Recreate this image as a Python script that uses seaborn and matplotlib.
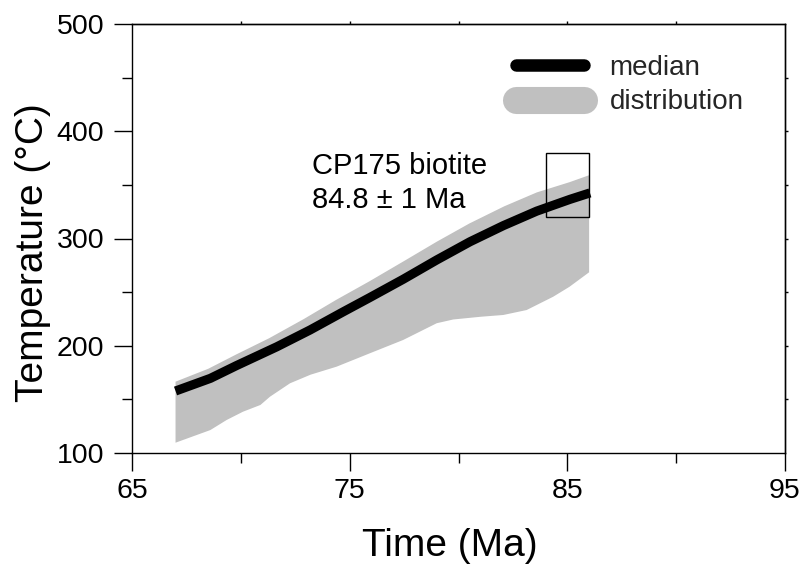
import numpy as np
import pandas as pd
import matplotlib
matplotlib.use("Agg")
import matplotlib.pyplot as plt
from matplotlib.lines import Line2D
from matplotlib.patches import Rectangle
import seaborn as sns

# ---- data ----
median_time = [67.0, 68.6, 69.8, 71.65, 73.18, 74.71, 75.93, 77.46, 79.0, 80.53, 82.06, 83.59, 85.12, 86.04]
median_temp = [157.8, 169.6, 181.5, 199.0, 214.7, 231.7, 245.0, 262.0, 280.0, 297.0, 312.0, 325.5, 336.5, 342.5]

upper_time = [67.0, 68.5, 69.8, 71.3, 72.9, 74.4, 75.9, 77.5, 79.0, 80.5, 82.1, 83.6, 85.1, 86.0]
upper_temp = [166.5, 178.5, 192.0, 207.0, 225.0, 243.0, 260.0, 279.0, 297.0, 314.0, 330.0, 343.0, 352.5, 359.0]

lower_time = [67.0, 68.6, 69.35, 70.1, 70.9, 71.34, 72.26, 73.2, 74.4, 75.93, 77.46, 79.0, 79.76,
              81.0, 82.06, 83.13, 84.35, 85.1, 86.0]
lower_temp = [109.6, 121.4, 130.8, 138.5, 144.8, 152.5, 165.0, 173.0, 180.5, 193.0, 205.4, 221.0, 224.5,
              227.0, 228.7, 233.3, 245.7, 255.0, 268.5]

box_time = [84.0, 86.0]
box_temp = [320.0, 380.0]

sample_label = "CP175 biotite\n84.8 ± 1 Ma"
legend_labels = ["median", "distribution"]

x_ticks = [65, 75, 85, 95]
y_ticks = [100, 200, 300, 400, 500]

# ---- style ----
sns.set_theme(style="ticks")
plt.rcParams["font.family"] = ["Liberation Sans", "DejaVu Sans"]
plt.rcParams["axes.linewidth"] = 1.0

GRAY = "#c0c0c0"

fig = plt.figure(figsize=(8.04, 5.65), dpi=100)
ax = fig.add_axes([132 / 804, 1 - 453 / 565, (785 - 132) / 804, (453 - 24) / 565])

# distribution band (polygon from upper edge forward, lower edge back)
poly_x = list(upper_time) + list(lower_time[::-1])
poly_y = list(upper_temp) + list(lower_temp[::-1])
ax.fill(poly_x, poly_y, color=GRAY, lw=0, zorder=1)

# median
med_df = pd.DataFrame({"Time": median_time, "Temp": median_temp})
sns.lineplot(data=med_df, x="Time", y="Temp", ax=ax, color="black",
             linewidth=6.6, sort=False, zorder=2, legend=False)
ax.lines[-1].set_solid_capstyle("butt")
ax.lines[-1].set_solid_joinstyle("round")

# box
ax.add_patch(Rectangle((box_time[0], box_temp[0]), box_time[1] - box_time[0],
                       box_temp[1] - box_temp[0], fill=False, ec="black",
                       lw=1.0, zorder=3))

# annotation
ax.text(73.25, 381, sample_label, fontsize=21, va="top", ha="left",
        linespacing=1.3, color="black")

# legend
handles = [
    Line2D([0], [0], color="black", lw=9, solid_capstyle="round"),
    Line2D([0], [0], color=GRAY, lw=19.5, solid_capstyle="round"),
]
ax.legend(handles, legend_labels, loc="upper left", frameon=False,
          fontsize=20, handlelength=2.43, handletextpad=0.93,
          labelspacing=0.3, borderaxespad=0,
          bbox_to_anchor=((516 - 132 - 11) / 653, (453 - 44) / 429))

# axes
ax.set_xlim(65, 95)
ax.set_ylim(100, 500)
ax.set_xticks(x_ticks)
ax.set_yticks(y_ticks)
ax.set_xticks([70, 80, 90], minor=True)
ax.set_yticks([150, 250, 350, 450], minor=True)
ax.tick_params(axis="both", which="major", direction="out", length=13,
               width=1.0, labelsize=20.5, color="black", labelcolor="black")
ax.tick_params(axis="both", which="minor", direction="out", length=7,
               width=1.0, color="black")
ax.tick_params(axis="x", which="major", pad=5)
ax.tick_params(axis="y", which="major", pad=7)
for s in ax.spines.values():
    s.set_visible(True)
    s.set_color("black")
    s.set_linewidth(1.0)

sec_x = ax.secondary_xaxis("top")
sec_x.set_xticks([70, 75, 80, 85, 90])
sec_x.tick_params(direction="out", length=2, width=1.0, labeltop=False, color="black")
sec_y = ax.secondary_yaxis("right")
sec_y.set_yticks([150, 200, 250, 300, 350, 400, 450])
sec_y.tick_params(direction="out", length=2, width=1.0, labelright=False, color="black")

ax.set_xlabel("Time (Ma)", fontsize=28, color="black")
ax.set_ylabel("Temperature (°C)", fontsize=28, color="black")
ax.xaxis.set_label_coords((450 - 132) / 653, -0.175)
ax.yaxis.set_label_coords((51 - 132) / 653, (453 - 253) / 429)
ax.set_facecolor("white")
fig.patch.set_facecolor("white")

fig.savefig("out.png", dpi=100)
